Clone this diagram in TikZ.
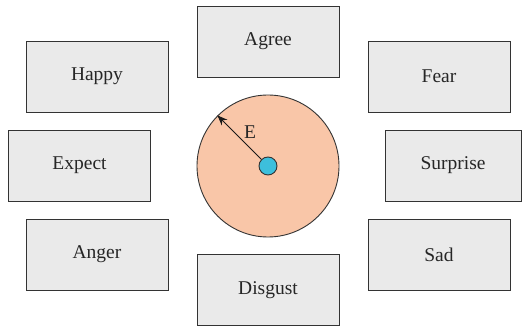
\documentclass[tikz,border=0pt]{standalone}
\usepackage{fontspec}
\setmainfont{Liberation Serif}
\usetikzlibrary{arrows.meta}
\definecolor{boxfill}{HTML}{EAEAEA}
\definecolor{boxline}{HTML}{333333}
\definecolor{disc}{HTML}{F9C6A8}
\definecolor{dot}{HTML}{3DBFDC}
\tikzset{
  emo/.style={draw=boxline, line width=0.9pt, fill=boxfill, minimum width=142pt, minimum height=71pt, inner sep=0pt, font=\fontsize{19.5}{22}\selectfont, text=black!85},
}
\begin{document}
\begin{tikzpicture}[x=1pt,y=-1pt]
\useasboundingbox (0,0) rectangle (523,328);
\node[emo] (agree) at (268,41.5) {Agree};
\node[emo] (happy) at (97,76.5) {Happy};
\node[emo] (fear) at (439,76.5) {Fear};
\node[emo] (expect) at (79.5,165.5) {Expect};
\node[emo, minimum width=136pt] (surprise) at (453,165.5) {Surprise};
\node[emo] (anger) at (97,254.5) {Anger};
\node[emo] (sad) at (439,254.5) {Sad};
\node[emo] (disgust) at (268,290) {Disgust};
\node[circle, draw=boxline, line width=0.9pt, fill=disc, minimum size=142pt, inner sep=0pt] (outer) at (268,166) {};
\node[circle, draw=boxline, line width=0.9pt, fill=dot, minimum size=18pt, inner sep=0pt] (center) at (268,166) {};
\draw[line width=1pt, draw=black!90, -{Stealth[length=10pt,width=8pt]}] (center) -- (outer.135);
\node[font=\fontsize{19.5}{22}\selectfont, text=black!85] (elabel) at (250,132) {E};
\end{tikzpicture}
\end{document}
